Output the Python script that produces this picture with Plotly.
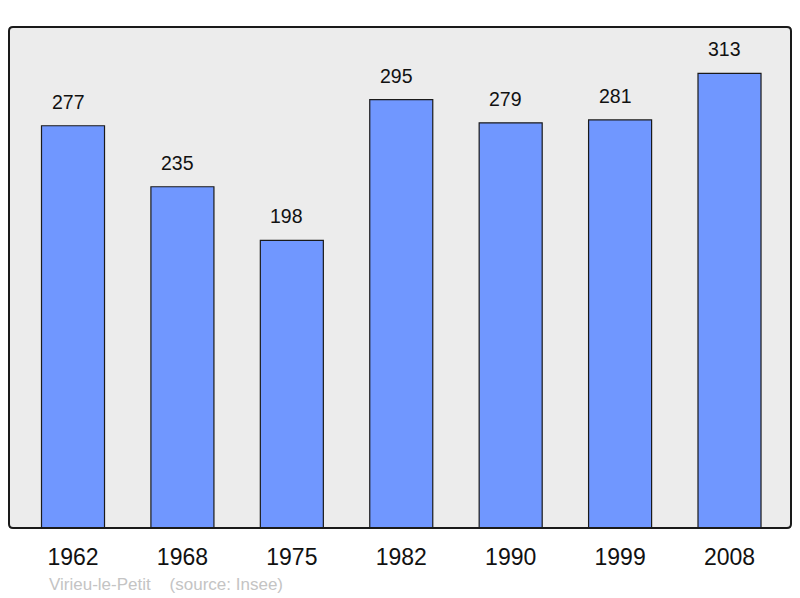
import plotly.graph_objects as go

years = ["1962", "1968", "1975", "1982", "1990", "1999", "2008"]
population = [277, 235, 198, 295, 279, 281, 313]
positions = list(range(len(years)))

FONT = "Liberation Sans, Arial, sans-serif"
PW, PH = 782, 501

fig = go.Figure()
fig.add_trace(go.Bar(
    x=positions, y=population, width=0.576,
    marker=dict(color="#7097ff", line=dict(color="#1a1a1a", width=1.2)),
    hoverinfo="skip",
))

for xi, v in zip(positions, population):
    fig.add_annotation(x=xi, y=v, text=str(v), showarrow=False,
                       yanchor="bottom", yshift=11, xshift=-5,
                       font=dict(family=FONT, size=19.5, color="#111111"))

fig.add_annotation(xref="paper", yref="paper", x=(47-9)/PW, y=-(584-528)/PH,
                   xanchor="left", yanchor="middle", showarrow=False,
                   text="Virieu-le-Petit&nbsp;&nbsp;&nbsp;&nbsp;(source: Insee)",
                   font=dict(family=FONT, size=17, color="#c4c4c4"))

# rounded border
rx, ry = 4 / PW, 4 / PH
path = (f"M {rx},0 L {1-rx},0 Q 1,0 1,{ry} L 1,{1-ry} Q 1,1 {1-rx},1 "
        f"L {rx},1 Q 0,1 0,{1-ry} L 0,{ry} Q 0,0 {rx},0 Z")
fig.add_shape(type="path", xref="paper", yref="paper", path=path,
              line=dict(color="#1a1a1a", width=2), layer="above")

fig.update_layout(
    width=800, height=598,
    margin=dict(l=9, r=9, t=27, b=70),
    paper_bgcolor="white", plot_bgcolor="#ececec",
    showlegend=False,
    xaxis=dict(range=[-0.585, 6.562], tickvals=positions, ticktext=years,
               showgrid=False, zeroline=False, showline=False, ticks="",
               ticklabelstandoff=13, fixedrange=True,
               tickfont=dict(family=FONT, size=23, color="#111111")),
    yaxis=dict(range=[0, 345], showgrid=False, zeroline=False, showline=False,
               showticklabels=False, ticks="", fixedrange=True),
)

fig.write_html("out.html", config={"displayModeBar": False},
               post_script="document.body.style.margin='0px';document.body.style.overflow='hidden';")
